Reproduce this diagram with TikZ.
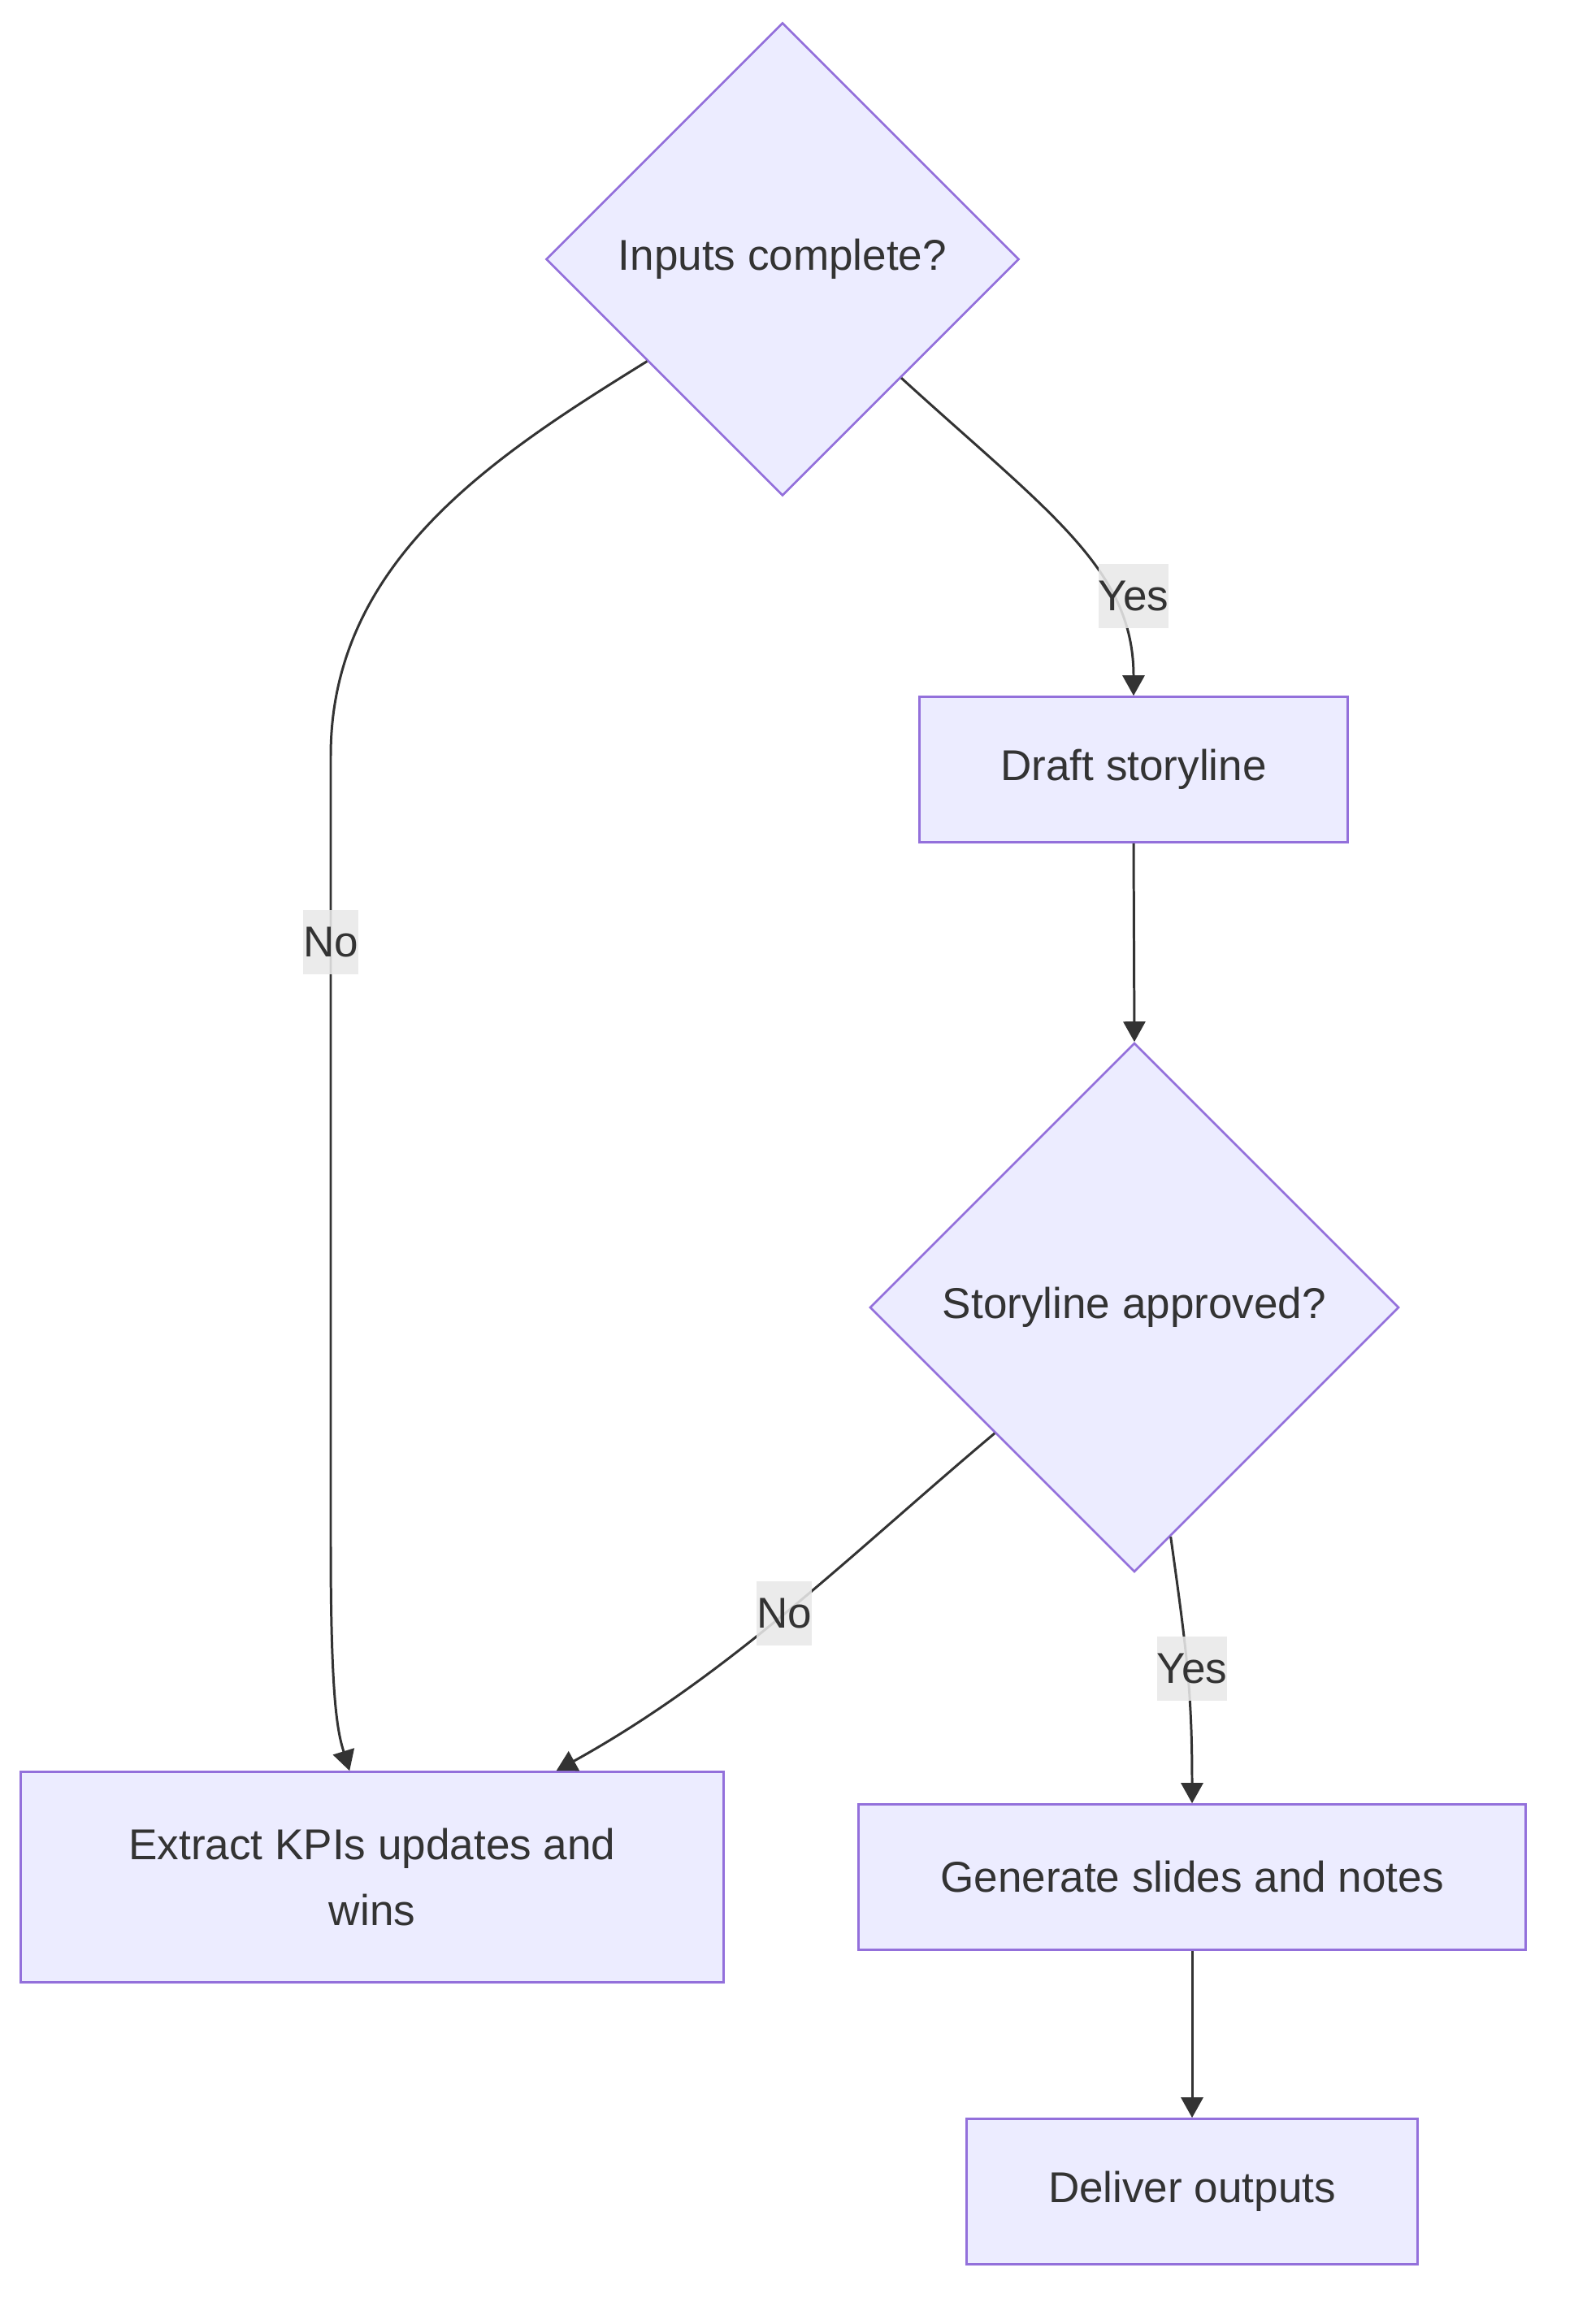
\documentclass[tikz,border=0pt]{standalone}
\usepackage{fontspec}
\setmainfont{Liberation Sans}
\usepackage{tikz}
\usetikzlibrary{arrows.meta, positioning, shapes.geometric}

\definecolor{nodefill}{HTML}{ECECFF}
\definecolor{nodeline}{HTML}{9370DB}
\definecolor{edgeline}{HTML}{333333}
\definecolor{lblfill}{HTML}{E8E8E8}

\begin{document}
\begin{tikzpicture}[
    box/.style      = {draw=nodeline, fill=nodefill, rectangle, line width=0.75pt,
                       align=center, text=edgeline, inner sep=0pt,
                       font=\fontsize{15.1}{22.8}\selectfont},
    decision/.style = {draw=nodeline, fill=nodefill, diamond, aspect=1, line width=0.75pt,
                       align=center, text=edgeline, inner sep=0pt,
                       font=\fontsize{15.1}{22.8}\selectfont},
    arr/.style      = {-{Triangle[length=0.25cm, width=0.27cm]}, line width=0.85pt, draw=edgeline},
    lbl/.style      = {fill=lblfill, fill opacity=0.88, text opacity=1, text=edgeline,
                       inner xsep=0pt, inner ysep=0pt, minimum height=0.79cm,
                       font=\fontsize{15.1}{17}\selectfont},
]
    \useasboundingbox (0,0) rectangle (19.36,-28.6);

    % -- Nodes --
    \node[decision, minimum width=5.82cm, minimum height=5.82cm] (inputs) at (9.63,-3.19) {Inputs complete?};
    \node[box, minimum width=5.27cm, minimum height=1.79cm] (draft) at (13.95,-9.47) {Draft storyline};
    \node[decision, minimum width=6.51cm, minimum height=6.51cm] (approved) at (13.96,-16.09) {Storyline approved?};
    \node[box, minimum width=8.65cm, minimum height=2.59cm] (extract) at (4.58,-23.10) {Extract KPIs updates and\\wins};
    \node[box, minimum width=8.21cm, minimum height=1.79cm] (generate) at (14.67,-23.10) {Generate slides and notes};
    \node[box, minimum width=5.55cm, minimum height=1.79cm] (deliver) at (14.67,-26.97) {Deliver outputs};

    % -- Edges --
    \draw[arr] (inputs.-143) .. controls (6.10,-5.60) and (4.07,-6.90) .. (4.07,-9.30)
        -- (4.07,-19.00) .. controls (4.07,-20.90) and (4.15,-21.30) .. (extract.102);
    \draw[arr] (inputs.south east) .. controls (12.90,-6.30) and (13.95,-7.00) .. (draft.north);
    \draw[arr] (draft.south) -- (approved.north);
    \draw[arr] (approved.-138) .. controls (10.50,-19.10) and (9.00,-20.60) .. (extract.30);
    \draw[arr] (approved.-81) .. controls (14.60,-20.30) and (14.67,-20.80) .. (generate.north);
    \draw[arr] (generate.south) -- (deliver.north);

    % -- Edge labels --
    \node[lbl] (no1) at (4.07,-11.59) {No};
    \node[lbl] (yes1) at (13.95,-7.33) {Yes};
    \node[lbl] (no2) at (9.65,-19.85) {No};
    \node[lbl] (yes2) at (14.67,-20.53) {Yes};

\end{tikzpicture}
\end{document}
